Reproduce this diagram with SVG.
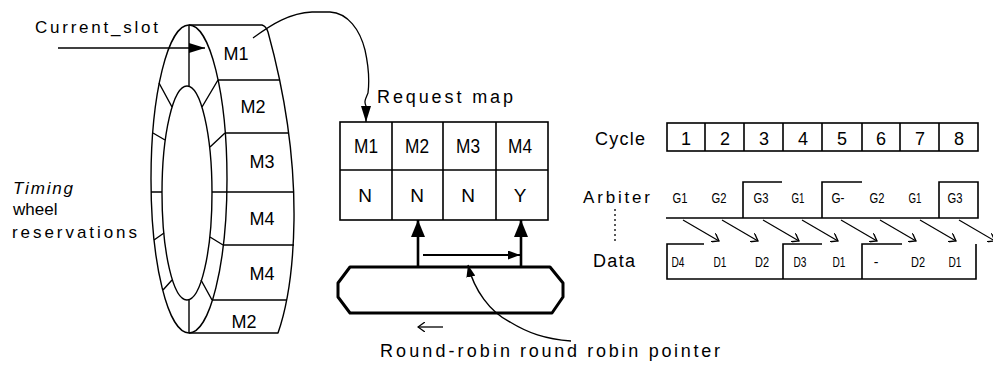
<svg xmlns="http://www.w3.org/2000/svg" width="993" height="372" viewBox="0 0 993 372">
<style>
.ln{fill:none;stroke:#000;stroke-width:1.4;stroke-linejoin:round}
.bx{fill:none;stroke:#000;stroke-width:1.6}
.t{font-family:"Liberation Sans",Arial,sans-serif;fill:#000}
.m{font-size:18px;text-anchor:middle}
.c{font-size:18px;text-anchor:middle}
.g{font-size:14px;text-anchor:middle}
.lbl{font-size:17px}
</style>
<defs>
<marker id="ah" viewBox="0 0 16 10" refX="16" refY="5" markerWidth="16" markerHeight="10" markerUnits="userSpaceOnUse" orient="auto"><path d="M0,0 L16,5 L0,10 z"/></marker>
<marker id="ahBig" viewBox="0 0 17 14" refX="17" refY="7" markerWidth="17" markerHeight="14" markerUnits="userSpaceOnUse" orient="auto"><path d="M0,0 L17,7 L0,14 z"/></marker>
<marker id="ahSm" viewBox="0 0 12 9" refX="12" refY="4.5" markerWidth="12" markerHeight="9" markerUnits="userSpaceOnUse" orient="auto-start-reverse"><path d="M0,0 L12,4.5 L0,9 z"/></marker>
<marker id="open" viewBox="0 0 8 10" refX="7" refY="5" markerWidth="8" markerHeight="10" markerUnits="userSpaceOnUse" orient="auto-start-reverse"><path d="M0,0 L7,5 L0,10" fill="none" stroke="#000" stroke-width="1.3"/></marker>
</defs>
<rect width="993" height="372" fill="#fff"/>

<g id="wheel">
<ellipse class="ln" cx="189" cy="179" rx="38" ry="154"/>
<ellipse class="ln" cx="187" cy="193" rx="25" ry="107"/>
<path class="ln" d="M189,25 V86 M159,83 L172,107 M153,133 L165,140 M151,192 H162 M154,240 L164,233 M163,290 L172,280 M189,300 V333 M201,280 L212,300 M210,237 L223,245 M212,192 H227 M210,147 L225,133 M202,107 L218,80"/>
<path class="ln" d="M189,25 H262 Q266,26 268,32 Q295,130 294,220 Q293,290 278,333 H189"/>
<path class="ln" d="M218,80 H279 M225,133 H288 M227,192 H293 M223,245 H294 M212,300 H287"/>
<text class="t m" x="236" y="60">M1</text>
<text class="t m" x="253" y="113">M2</text>
<text class="t m" x="262" y="168">M3</text>
<text class="t m" x="262" y="225">M4</text>
<text class="t m" x="262" y="280">M4</text>
<text class="t m" x="244" y="328">M2</text>
</g>

<g id="wheel-labels">
<text class="t lbl" x="35" y="33" textLength="123" lengthAdjust="spacing">Current_slot</text>
<text class="t" x="13" y="194" font-size="17" font-style="italic" textLength="60" lengthAdjust="spacing">Timing</text>
<text class="t" x="13" y="215" font-size="17">wheel</text>
<text class="t" x="12" y="238" font-size="17" textLength="125" lengthAdjust="spacing">reservations</text>
</g>

<g id="request-map">
<text class="t" x="377" y="103" font-size="18" textLength="136" lengthAdjust="spacing">Request map</text>
<rect class="bx" x="340" y="122" width="208" height="98"/>
<path class="bx" d="M392,122 V220 M443,122 V220 M496,122 V220 M340,170 H548"/>
<text class="t" x="366" y="153" font-size="20" text-anchor="middle" textLength="24" lengthAdjust="spacingAndGlyphs">M1</text>
<text class="t" x="417" y="153" font-size="20" text-anchor="middle" textLength="24" lengthAdjust="spacingAndGlyphs">M2</text>
<text class="t" x="468" y="153" font-size="20" text-anchor="middle" textLength="24" lengthAdjust="spacingAndGlyphs">M3</text>
<text class="t" x="520" y="153" font-size="20" text-anchor="middle" textLength="24" lengthAdjust="spacingAndGlyphs">M4</text>
<text class="t" x="365" y="202" font-size="19" text-anchor="middle">N</text>
<text class="t" x="417" y="202" font-size="19" text-anchor="middle">N</text>
<text class="t" x="468" y="202" font-size="19" text-anchor="middle">N</text>
<text class="t" x="520" y="202" font-size="19" text-anchor="middle">Y</text>
</g>

<g id="round-robin">
<path d="M350,267 H550 L563,283 V297 L552,313 H350 L338,297 V283 Z" fill="none" stroke="#000" stroke-width="3" stroke-linejoin="round"/>
<text class="t" x="380" y="357" font-size="18" textLength="130" lengthAdjust="spacing">Round-robin</text>
<text class="t" x="520" y="357" font-size="18" textLength="200" lengthAdjust="spacing">round robin pointer</text>
</g>

<g id="timing">
<text class="t" x="595" y="145" font-size="18" textLength="50" lengthAdjust="spacing">Cycle</text>
<rect class="bx" x="667" y="123" width="311" height="28"/>
<path class="bx" d="M705,123 V151 M744,123 V151 M783,123 V151 M822,123 V151 M862,123 V151 M900,123 V151 M939,123 V151"/>
<text class="t c" x="686" y="145">1</text>
<text class="t c" x="725" y="145">2</text>
<text class="t c" x="764" y="145">3</text>
<text class="t c" x="803" y="145">4</text>
<text class="t c" x="842" y="145">5</text>
<text class="t c" x="881" y="145">6</text>
<text class="t c" x="920" y="145">7</text>
<text class="t c" x="959" y="145">8</text>

<text class="t" x="583" y="203" font-size="17" textLength="67" lengthAdjust="spacing">Arbiter</text>
<path class="bx" d="M666,218 H978 V182 H939 V218 M743,218 V182 H782 M822,218 V182 H862"/>
<text class="t g" x="680" y="203" textLength="15" lengthAdjust="spacingAndGlyphs">G1</text>
<text class="t g" x="719" y="203" textLength="15" lengthAdjust="spacingAndGlyphs">G2</text>
<text class="t g" x="761" y="203" textLength="15" lengthAdjust="spacingAndGlyphs">G3</text>
<text class="t g" x="798" y="203" textLength="13" lengthAdjust="spacingAndGlyphs">G1</text>
<text class="t g" x="838" y="203" textLength="13" lengthAdjust="spacingAndGlyphs">G-</text>
<text class="t g" x="877" y="203" textLength="15" lengthAdjust="spacingAndGlyphs">G2</text>
<text class="t g" x="915" y="203" textLength="13" lengthAdjust="spacingAndGlyphs">G1</text>
<text class="t g" x="955" y="203" textLength="15" lengthAdjust="spacingAndGlyphs">G3</text>

<text class="t" x="593" y="267" font-size="18" textLength="42" lengthAdjust="spacing">Data</text>
<path class="bx" d="M704,244 H667 V279 H976 V244 M783,279 V244 H822 M862,279 V244 H902"/>
<text class="t g" x="678" y="267" textLength="13" lengthAdjust="spacingAndGlyphs">D4</text>
<text class="t g" x="720" y="267" textLength="13" lengthAdjust="spacingAndGlyphs">D1</text>
<text class="t g" x="762" y="267" textLength="14" lengthAdjust="spacingAndGlyphs">D2</text>
<text class="t g" x="800" y="267" textLength="13" lengthAdjust="spacingAndGlyphs">D3</text>
<text class="t g" x="839" y="267" textLength="13" lengthAdjust="spacingAndGlyphs">D1</text>
<text class="t g" x="876" y="267">-</text>
<text class="t g" x="918" y="267" textLength="14" lengthAdjust="spacingAndGlyphs">D2</text>
<text class="t g" x="955" y="267" textLength="13" lengthAdjust="spacingAndGlyphs">D1</text>
</g>

<g id="connectors" fill="none" stroke="#000">
<path d="M58,48 H205" stroke-width="1.4" marker-end="url(#ah)"/>
<path d="M253,38 C272,24 290,13 312,12 L330,12 C348,13 360,30 365,50 C369,68 369,85 368,93 C365,100 364,102 366,106 L366,122" stroke-width="1.3" marker-end="url(#ah)"/>
<path d="M418,267 V220" stroke-width="2.6" marker-end="url(#ahBig)"/>
<path d="M521,267 V220" stroke-width="2.6" marker-end="url(#ahBig)"/>
<path d="M423,255 H520" stroke-width="2" marker-end="url(#ahSm)"/>
<path d="M468,265 C474,290 490,312 510,322 C528,333 545,339 571,341" stroke-width="1.4" marker-start="url(#ahSm)"/>
<path d="M443,327 H418" stroke-width="1.3" marker-end="url(#open)"/>
<path d="M615,209 V244" stroke-width="1.3" stroke-dasharray="2,3"/>
<g stroke-width="1.2" marker-end="url(#open)">
<path d="M683,220 L719,241"/>
<path d="M722,220 L758,241"/>
<path d="M763,220 L799,241"/>
<path d="M802,220 L838,241"/>
<path d="M841,220 L877,241"/>
<path d="M880,220 L916,241"/>
<path d="M920,220 L956,241"/>
<path d="M959,220 L995,241"/>
</g>
</g>
</svg>
